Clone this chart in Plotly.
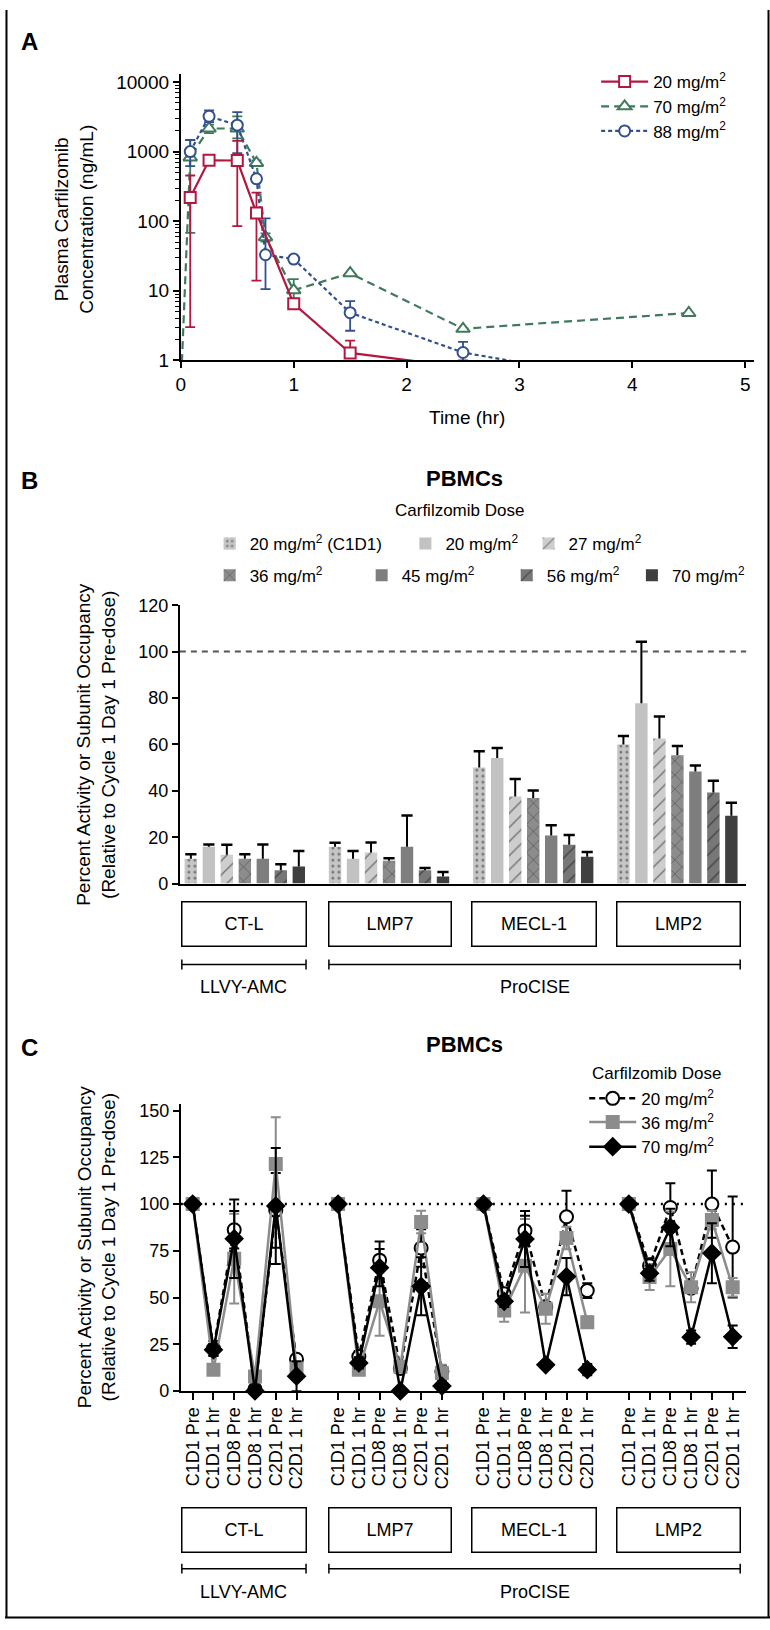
import plotly.graph_objects as go

W, H = 770, 1630
def X(px): return px / W
def Y(py): return 1 - py / H
FONT = "Liberation Sans, Arial, Helvetica, sans-serif"

# ---------------- Panel A data (plasma PK) ----------------
a_labels = ["20 mg/m<sup>2</sup>", "70 mg/m<sup>2</sup>", "88 mg/m<sup>2</sup>"]
a20_t  = [0.083, 0.25, 0.5, 0.67, 1.0, 1.5, 2.5]
a20_v  = [219, 750, 745, 131, 6.5, 1.28, 0.8]
a20_up = [235, 0, 680, 127, 0.8, 0.64, 0]
a20_dn = [216, 0, 660, 117, 0.8, 0.1, 0]
a70_t  = [0, 0.083, 0.25, 0.5, 0.67, 0.75, 1.0, 1.5, 2.5, 4.5]
a70_v  = [0.4, 826, 2150, 2150, 687, 59, 10.2, 17.9, 2.85, 4.8]
a70_up = [0, 644, 300, 1070, 60, 8, 4.5, 0, 0, 0]
a70_dn = [0, 758, 300, 600, 60, 8, 3.85, 0, 0, 0]
a88_t  = [0.083, 0.25, 0.5, 0.67, 0.75, 1.0, 1.5, 2.5, 4.5]
a88_v  = [1000, 3220, 2400, 407, 33, 28.6, 4.85, 1.3, 0.35]
a88_up = [470, 680, 1300, 0, 77, 0, 2.25, 0.55, 0]
a88_dn = [380, 570, 1450, 0, 22.4, 0, 2.18, 0.3, 0]
a_yticks = [1, 10, 100, 1000, 10000]
a_xticks = [0, 1, 2, 3, 4, 5]

# ---------------- Panel B data (bars) ----------------
b_groups = ["CT-L", "LMP7", "MECL-1", "LMP2"]
b_doses = ["20 mg/m<sup>2</sup> (C1D1)", "20 mg/m<sup>2</sup>", "27 mg/m<sup>2</sup>",
           "36 mg/m<sup>2</sup>", "45 mg/m<sup>2</sup>", "56 mg/m<sup>2</sup>", "70 mg/m<sup>2</sup>"]
b_20c1 = [10.7, 15.9, 50.0, 60.0]
b_20   = [15.9, 10.7, 54.1, 77.7]
b_27   = [12.4, 13.4, 37.6, 62.6]
b_36   = [10.7, 9.9, 36.9, 55.3]
b_45   = [10.7, 15.9, 20.7, 48.3]
b_56   = [5.7, 5.7, 16.7, 39.3]
b_70   = [7.4, 3.1, 11.6, 29.3]
b_20c1_sd = [1.9, 1.7, 7.1, 3.6]
b_20_sd   = [1.0, 3.4, 4.3, 26.6]
b_27_sd   = [4.3, 4.3, 7.5, 9.4]
b_36_sd   = [1.9, 1.0, 3.2, 4.0]
b_45_sd   = [6.2, 13.5, 4.4, 2.6]
b_56_sd   = [2.6, 1.0, 4.2, 5.0]
b_70_sd   = [6.7, 1.9, 2.0, 5.6]
b_yticks = [0, 20, 40, 60, 80, 100, 120]

# ---------------- Panel C data (time course) ----------------
c_groups = ["CT-L", "LMP7", "MECL-1", "LMP2"]
c_times = ["C1D1 Pre", "C1D1 1 hr", "C1D8 Pre", "C1D8 1 hr", "C2D1 Pre", "C2D1 1 hr"]
c_doses = ["20 mg/m<sup>2</sup>", "36 mg/m<sup>2</sup>", "70 mg/m<sup>2</sup>"]
#            CT-L                              LMP7                            MECL-1                          LMP2
c20    = [100, 22.7, 86.3, 1, 96.6, 17,    100, 18.4, 70, 12, 76.5, 10.5,   100, 52, 85.8, 45, 93.2, 53.7,  100, 67, 98.2, 55, 100, 77]
c20_sd = [0, 4, 10, 0, 20, 2,              0, 3, 10, 0, 10, 3,              0, 3, 8, 0, 14, 4,              0, 4, 13, 0, 18, 27]
c36    = [100, 11.4, 70.8, 7.7, 121.5, 12, 100, 11.4, 48, 13, 90.4, 9.6,    100, 43, 67, 44, 81.9, 36.8,    100, 61, 76, 55.5, 91.5, 55.5]
c36_sd = [0, 2, 24, 2, 25, 3,              0, 2, 18.5, 3, 6, 4.5,           0, 6, 25, 8, 6, 3,              0, 7, 20, 8, 5, 5]
c70    = [100, 22, 81.5, 0, 99, 7.9,       100, 15, 66, 0, 56, 2.6,         100, 48, 81.3, 14, 61.2, 11.4,  100, 63, 87.5, 28.8, 73.7, 29]
c70_sd = [0, 3, 21, 0, 31, 8,              0, 3, 10, 0, 15.5, 2.6,          0, 3, 15, 2, 10, 3,             0, 4, 10, 3.5, 16, 6]
c_yticks = [0, 25, 50, 75, 100, 125, 150]

fig = go.Figure()

# ---------------- Panel A traces ----------------
a_series = [
    (a70_t, a70_v, a70_up, a70_dn, a_labels[1], "#3e7a5b", "triangle-up", "8px,5px", "legend2", 12),
    (a88_t, a88_v, a88_up, a88_dn, a_labels[2], "#33508e", "circle", "4px,3px", "legend3", 11),
    (a20_t, a20_v, a20_up, a20_dn, a_labels[0], "#b3173f", "square", "solid", "legend", 11),
]
for t, v, up, dn, name, col, sym, dash, lg, ms in a_series:
    fig.add_trace(go.Scatter(
        x=t, y=v, name=name, mode="lines+markers", xaxis="x", yaxis="y", legend=lg,
        line=dict(color=col, width=2.2, dash=dash),
        marker=dict(symbol=sym, size=ms, color="white", line=dict(color=col, width=2)),
        error_y=dict(type="data", symmetric=False, array=up, arrayminus=dn,
                     color=col, thickness=1.8, width=5),
        hoverinfo="x+y"))

# ---------------- Panel B traces ----------------
b_vals = [b_20c1, b_20, b_27, b_36, b_45, b_56, b_70]
b_sds = [b_20c1_sd, b_20_sd, b_27_sd, b_36_sd, b_45_sd, b_56_sd, b_70_sd]
b_colors = ["#c6c6c6", "#c2c2c2", "#cdcdcd", "#8c8c8c", "#7e7e7e", "#777777", "#3f3f3f"]
b_patterns = [dict(shape=".", fgcolor="#222222", size=6, solidity=0.18),
              None,
              dict(shape="/", fgcolor="#1a1a1a", size=10, solidity=0.14),
              dict(shape="x", fgcolor="#111111", size=10, solidity=0.12),
              None,
              dict(shape="/", fgcolor="#111111", size=10, solidity=0.14),
              None]
slot = 0.8735 / 7
bw = 0.69 * slot
for d, (vals, sds, col, pat) in enumerate(zip(b_vals, b_sds, b_colors, b_patterns)):
    xs = [g + (d - 3) * slot for g in range(len(b_groups))]
    mk = dict(color=col, line=dict(width=0))
    if pat:
        p = dict(pat)
        p["bgcolor"] = col
        mk["pattern"] = p
    fig.add_trace(go.Bar(
        x=xs, y=vals, width=bw, name=b_doses[d], xaxis="x2", yaxis="y2",
        legend="legend%d" % (4 + d), marker=mk,
        error_y=dict(type="data", symmetric=False, array=sds, arrayminus=[0] * len(sds),
                     color="black", thickness=2, width=0)))
    fig.add_trace(go.Scatter(
        x=xs, y=[v + s for v, s in zip(vals, sds)], mode="markers", showlegend=False,
        xaxis="x2", yaxis="y2", hoverinfo="skip",
        marker=dict(symbol="line-ew", size=8, color="black", line=dict(color="black", width=2.5))))

# ---------------- Panel C traces ----------------
def with_breaks(vals):
    out = []
    for g in range(len(c_groups)):
        out += list(vals[g * 6:(g + 1) * 6]) + [None]
    return out

c_x = with_breaks([g * 7 + i for g in range(len(c_groups)) for i in range(len(c_times))])
c_series = [
    (c20, c20_sd, c_doses[0], "black", "dash", "circle", "white", 13, "legend11"),
    (c36, c36_sd, c_doses[1], "#8c8c8c", "solid", "square", "#8c8c8c", 12, "legend12"),
    (c70, c70_sd, c_doses[2], "black", "solid", "diamond", "black", 13, "legend13"),
]
for vals, sds, name, col, dash, sym, fill, ms, lg in c_series:
    fig.add_trace(go.Scatter(
        x=c_x, y=with_breaks(vals), name=name, mode="lines+markers",
        xaxis="x3", yaxis="y3", legend=lg, cliponaxis=False, connectgaps=False,
        line=dict(color=col, width=2.5, dash="6px,4px" if dash == "dash" else "solid"),
        marker=dict(symbol=sym, size=ms, color=fill, line=dict(color=col, width=2)),
        error_y=dict(type="data", array=with_breaks(sds), color=col, thickness=2, width=5)))

# ---------------- Annotations ----------------
anns = []
def ann(text, px, py, size=18, bold=False, angle=0, **kw):
    d = dict(text=("<b>%s</b>" % text) if bold else text, x=X(px), y=Y(py), xref="paper",
             yref="paper", showarrow=False, textangle=angle,
             font=dict(size=size, family=FONT, color="black"),
             xanchor="center", yanchor="middle")
    d.update(kw)
    anns.append(d)

ann("A", 25, 32, 24, True)
ann("B", 25, 477, 24, True)
ann("C", 25, 1051, 24, True)
ann("Plasma Carfilzomib<br>Concentration (ng/mL)", 70, 212, 19, angle=-90)
ann("Time (hr)", 465, 413, 19)
ann("PBMCs", 462, 475, 22, True)
ann("Carfilzomib Dose", 457, 507, 17)
ann("Percent Activity or Subunit Occupancy<br>(Relative to Cycle 1 Day 1 Pre-dose)", 92, 744, 19, angle=-90)
ann("PBMCs", 462, 1048, 22, True)
ann("Carfilzomib Dose", 656, 1077, 17)
ann("Percent Activity or Subunit Occupancy<br>(Relative to Cycle 1 Day 1 Pre-dose)", 92, 1253, 19, angle=-90)

box_x = [(178, 303), (326, 449), (470, 595), (616, 740)]
for (bx0, bx1), name in zip(box_x, b_groups):
    for yc in (925.5, 1539.5):
        ann(name, (bx0 + bx1) / 2, yc, 18, width=bx1 - bx0 - 2, height=43,
            bordercolor="black", borderwidth=1.5, borderpad=0, align="center")

shapes = []
def hline(x0, x1, y, w=1.5, color="black", dash="solid"):
    shapes.append(dict(type="line", xref="paper", yref="paper", x0=X(x0), x1=X(x1), y0=Y(y), y1=Y(y),
                       line=dict(color=color, width=w, dash=dash)))
def vline(x, y0, y1, w=1.5, color="black"):
    shapes.append(dict(type="line", xref="paper", yref="paper", x0=X(x), x1=X(x), y0=Y(y0), y1=Y(y1),
                       line=dict(color=color, width=w)))

for yb, yt in ((967, 990), (1579, 1603)):
    for (bx0, bx1), lab in (((178, 303), "LLVY-AMC"), ((326, 740), "ProCISE")):
        hline(bx0, bx1, yb)
        vline(bx0, yb - 5, yb + 5)
        vline(bx1, yb - 5, yb + 5)
        ann(lab, (bx0 + bx1) / 2, yt, 18)

# reference lines at 100
shapes.append(dict(type="line", xref="x2 domain", yref="y2", x0=0, x1=1, y0=100, y1=100,
                   line=dict(color="#555555", width=2, dash="6px,5px")))
shapes.append(dict(type="line", xref="x3 domain", yref="y3", x0=0, x1=1, y0=100, y1=100,
                   line=dict(color="black", width=2.5, dash="2px,6px"), layer="below"))

# outer frame
vline(1.5, 0, 1629, 2)
vline(768.5, 0, 1629, 2)
hline(0, 770, 1628.5, 2)

axis_common = dict(showgrid=False, zeroline=False, showline=True, linecolor="black", linewidth=2,
                   ticks="outside", tickcolor="black", tickwidth=2, ticklen=6,
                   tickfont=dict(size=18, family=FONT, color="black"))
axis_a = {**axis_common, "tickfont": dict(size=19, family=FONT, color="black")}

minor_vals = [m * 10 ** k for k in range(4) for m in range(2, 10)]

def leg(px, py, iw=30):
    return dict(x=X(px), y=Y(py), xanchor="left", yanchor="middle", bgcolor="rgba(0,0,0,0)",
                borderwidth=0, font=dict(size=17, family=FONT, color="black"), itemwidth=iw,
                orientation="v", tracegroupgap=0, itemclick=False, itemdoubleclick=False)

layout = dict(
    width=W, height=H, autosize=False, margin=dict(l=0, r=0, t=0, b=0, pad=0),
    paper_bgcolor="white", plot_bgcolor="white", font=dict(family=FONT, color="black"),
    barmode="overlay", showlegend=True,
    xaxis=dict(domain=[X(177), X(754)], range=[0, 5.079], anchor="y",
               tickvals=a_xticks, **axis_a),
    yaxis=dict(domain=[Y(355), Y(65)], type="log", range=[0, 4.113], anchor="x",
               tickvals=a_yticks, ticktext=[str(v) for v in a_yticks],
               minor=dict(tickvals=minor_vals, ticks="outside", ticklen=4, tickwidth=1.2,
                          tickcolor="black", showgrid=False), **axis_a),
    xaxis2=dict(domain=[X(176), X(746)], range=[-0.4507, 3.477], anchor="y2",
                showgrid=False, zeroline=False, showline=True, linecolor="black", linewidth=2,
                ticks="", showticklabels=False),
    yaxis2=dict(domain=[Y(885), Y(603)], range=[0, 120], anchor="x2", tickvals=b_yticks,
                **axis_common),
    xaxis3=dict(domain=[X(177), X(746)], range=[-0.57, 26.65], anchor="y3",
                tickvals=[g * 7 + i for g in range(len(c_groups)) for i in range(len(c_times))],
                ticktext=c_times * len(c_groups), tickangle=-90, **{**axis_common, "ticklen": 7}),
    yaxis3=dict(domain=[Y(1399), Y(1108)], range=[0, 153.7], anchor="x3", tickvals=c_yticks,
                **axis_common),
    annotations=anns, shapes=shapes,
    legend=leg(595, 73, 47), legend2=leg(595, 98, 47), legend3=leg(595, 123, 47),
    legend4=leg(206, 541), legend5=leg(403, 541), legend6=leg(527, 541),
    legend7=leg(206, 573), legend8=leg(359, 573), legend9=leg(505, 573), legend10=leg(631, 573),
    legend11=leg(583, 1103, 47), legend12=leg(583, 1127, 47), legend13=leg(583, 1152, 47),
)
fig.update_layout(**layout)

fig.write_html("out.html", config={"displayModeBar": False},
               post_script="document.body.style.margin='0';document.body.style.overflow='hidden';")
